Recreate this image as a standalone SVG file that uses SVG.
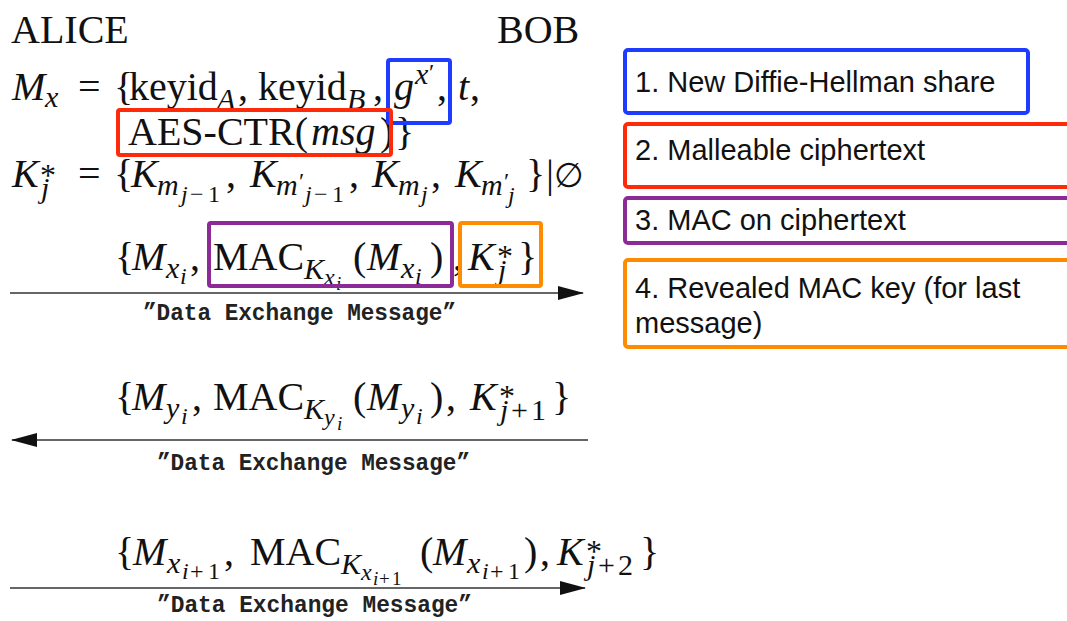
<svg xmlns="http://www.w3.org/2000/svg" width="1067" height="621" viewBox="0 0 1067 621">
<defs>
<style>
text{font-family:"Liberation Serif","DejaVu Serif",serif;fill:#111;}
.t{font-size:40px;}
.it{font-style:italic;}
.s{font-size:30px;}
.ss{font-size:24px;}
.sss{font-size:19px;}
.st{font-size:32px;}
.es{font-size:34px;}
.lbl{font-family:"Liberation Mono","DejaVu Sans Mono",monospace;font-size:23px;font-weight:bold;fill:#222;}
.note{font-family:"Liberation Sans",Arial,sans-serif;font-size:29px;fill:#111;}
.box{fill:none;stroke-width:4;}
.blue{stroke:#1e3cff;}
.red{stroke:#ff2a0a;}
.purple{stroke:#8c2b96;}
.orange{stroke:#ff8c00;}
.arrow{stroke:#333;stroke-width:1.6;fill:none;marker-end:url(#ah);}
</style>
<marker id="ah" markerUnits="userSpaceOnUse" markerWidth="26" markerHeight="14" refX="25" refY="7" orient="auto">
<path d="M0,0 L26,7 L0,14 z" fill="#111"/>
</marker>
</defs>
<rect width="1067" height="621" fill="#fff"/>

<g id="alice"><text class="t" x="11" y="43">ALICE</text></g>
<g id="bob"><text class="t" x="497" y="43">BOB</text></g>

<g id="eq-mx">
<text class="t">
<tspan class="it" x="12" y="100">M</tspan><tspan class="it s" x="45" y="107">x</tspan>
<tspan x="78" y="100">=</tspan>
<tspan x="114" y="100">{</tspan><tspan x="129" y="100">keyid</tspan><tspan class="it s" x="217" y="109">A</tspan><tspan x="238" y="100">,</tspan>
<tspan x="258" y="100">keyid</tspan><tspan class="it s" x="347" y="109">B</tspan><tspan x="373" y="100">,</tspan>
<tspan class="it" x="394" y="100">g</tspan><tspan class="it s" x="415" y="84">x</tspan><tspan class="ss" x="429" y="80">′</tspan><tspan x="437" y="100">,</tspan>
<tspan class="it" x="458" y="100">t</tspan><tspan x="470" y="100">,</tspan>
<tspan x="128" y="145">AES-CTR(</tspan><tspan class="it" x="311" y="145">msg</tspan><tspan x="380" y="145">)</tspan><tspan x="395" y="145">}</tspan>
</text>
<rect class="box blue" x="388" y="60" width="62" height="63" rx="2"/>
<rect class="box red" x="118" y="110" width="273" height="45" rx="2"/>
</g>

<g id="eq-kj">
<text class="t">
<tspan class="it" x="12" y="187">K</tspan><tspan class="st" x="40" y="186">*</tspan><tspan class="it s" x="41" y="198">j</tspan>
<tspan x="78" y="187">=</tspan>
<tspan x="114" y="187">{</tspan>
<tspan class="it" x="131" y="187">K</tspan><tspan class="it s" x="157" y="195">m</tspan><tspan class="it ss" x="181" y="202">j</tspan><tspan class="ss" x="190" y="202">−</tspan><tspan class="ss" x="208" y="202">1</tspan><tspan x="226" y="187">,</tspan>
<tspan class="it" x="250" y="187">K</tspan><tspan class="it s" x="276" y="195">m</tspan><tspan class="ss" x="299" y="189">′</tspan><tspan class="it ss" x="305" y="202">j</tspan><tspan class="ss" x="314" y="202">−</tspan><tspan class="ss" x="332" y="202">1</tspan><tspan x="349" y="187">,</tspan>
<tspan class="it" x="372" y="187">K</tspan><tspan class="it s" x="398" y="195">m</tspan><tspan class="it ss" x="421" y="202">j</tspan><tspan x="431" y="187">,</tspan>
<tspan class="it" x="455" y="187">K</tspan><tspan class="it s" x="481" y="195">m</tspan><tspan class="ss" x="504" y="189">′</tspan><tspan class="it ss" x="508" y="203">j</tspan>
<tspan x="526" y="187">}</tspan><tspan x="546" y="187">|</tspan><tspan class="es" x="554" y="187">∅</tspan>
</text>
</g>

<g id="msg1">
<text class="t">
<tspan x="115" y="270">{</tspan><tspan class="it" x="132" y="270">M</tspan><tspan class="it s" x="166" y="278">x</tspan><tspan class="it ss" x="180" y="284">i</tspan><tspan x="190" y="270">,</tspan>
<tspan x="213" y="270">MAC</tspan><tspan class="it s" x="304" y="279">K</tspan><tspan class="it ss" x="324" y="285">x</tspan><tspan class="it sss" x="336" y="290">i</tspan>
<tspan x="353" y="270">(</tspan><tspan class="it" x="367" y="270">M</tspan><tspan class="it s" x="401" y="278">x</tspan><tspan class="it ss" x="415" y="284">i</tspan><tspan x="430" y="270">)</tspan><tspan x="453" y="270">,</tspan>
<tspan class="it" x="468" y="270">K</tspan><tspan class="st" x="497" y="267">*</tspan><tspan class="it s" x="498" y="280">j</tspan><tspan x="518" y="270">}</tspan>
</text>
<rect class="box purple" x="209" y="223" width="243" height="63" rx="2"/>
<rect class="box orange" x="460" y="223" width="81" height="63" rx="2"/>
</g>

<g id="msg2">
<text class="t">
<tspan x="115" y="410">{</tspan><tspan class="it" x="132" y="410">M</tspan><tspan class="it s" x="166" y="418">y</tspan><tspan class="it ss" x="181" y="424">i</tspan><tspan x="192" y="410">,</tspan>
<tspan x="213" y="410">MAC</tspan><tspan class="it s" x="304" y="419">K</tspan><tspan class="it ss" x="324" y="425">y</tspan><tspan class="it sss" x="337" y="430">i</tspan>
<tspan x="353" y="410">(</tspan><tspan class="it" x="367" y="410">M</tspan><tspan class="it s" x="401" y="418">y</tspan><tspan class="it ss" x="416" y="424">i</tspan><tspan x="430" y="410">)</tspan><tspan x="446" y="410">,</tspan>
<tspan class="it" x="470" y="410">K</tspan><tspan class="st" x="499" y="407">*</tspan><tspan class="it s" x="500" y="420">j</tspan><tspan class="s" x="511" y="420">+</tspan><tspan class="s" x="531" y="420">1</tspan><tspan x="552" y="410">}</tspan>
</text>
</g>

<g id="msg3">
<text class="t">
<tspan x="115" y="565">{</tspan><tspan class="it" x="133" y="565">M</tspan><tspan class="it s" x="167" y="573">x</tspan><tspan class="it ss" x="182" y="579">i</tspan><tspan class="ss" x="190" y="579">+</tspan><tspan class="ss" x="208" y="579">1</tspan><tspan x="224" y="565">,</tspan>
<tspan x="250" y="565">MAC</tspan><tspan class="it s" x="341" y="574">K</tspan><tspan class="it ss" x="361" y="580">x</tspan><tspan class="it sss" x="373" y="585">i</tspan><tspan class="sss" x="379" y="585">+</tspan><tspan class="sss" x="392" y="585">1</tspan>
<tspan x="420" y="565">(</tspan><tspan class="it" x="433" y="565">M</tspan><tspan class="it s" x="467" y="573">x</tspan><tspan class="it ss" x="482" y="579">i</tspan><tspan class="ss" x="490" y="579">+</tspan><tspan class="ss" x="508" y="579">1</tspan><tspan x="524" y="565">)</tspan><tspan x="540" y="565">,</tspan>
<tspan class="it" x="557" y="565">K</tspan><tspan class="st" x="586" y="562">*</tspan><tspan class="it s" x="587" y="575">j</tspan><tspan class="s" x="598" y="575">+</tspan><tspan class="s" x="618" y="575">2</tspan><tspan x="640" y="565">}</tspan>
</text>
</g>

<g id="connectors">
<line class="arrow" x1="10" y1="293" x2="583" y2="293"/>
<line class="arrow" x1="588" y1="440" x2="12" y2="440"/>
<line class="arrow" x1="10" y1="588" x2="585" y2="588"/>
</g>

<g id="labels">
<text class="lbl" x="143" y="320" textLength="313" lengthAdjust="spacingAndGlyphs">”Data Exchange Message”</text>
<text class="lbl" x="157" y="470" textLength="313" lengthAdjust="spacingAndGlyphs">”Data Exchange Message”</text>
<text class="lbl" x="157" y="612" textLength="315" lengthAdjust="spacingAndGlyphs">”Data Exchange Message”</text>
</g>

<g id="note1">
<rect class="box blue" x="625" y="50" width="403" height="63" rx="3"/>
<text class="note" x="635" y="92">1. New Diffie-Hellman share</text>
</g>
<g id="note2">
<rect class="box red" x="625" y="124" width="460" height="63" rx="3"/>
<text class="note" x="635" y="160">2. Malleable ciphertext</text>
</g>
<g id="note3">
<rect class="box purple" x="625" y="198" width="460" height="45" rx="3"/>
<text class="note" x="635" y="230">3. MAC on ciphertext</text>
</g>
<g id="note4">
<rect class="box orange" x="625" y="260" width="460" height="87" rx="3"/>
<text class="note" x="635" y="298">4. Revealed MAC key (for last</text>
<text class="note" x="635" y="333">message)</text>
</g>
</svg>
